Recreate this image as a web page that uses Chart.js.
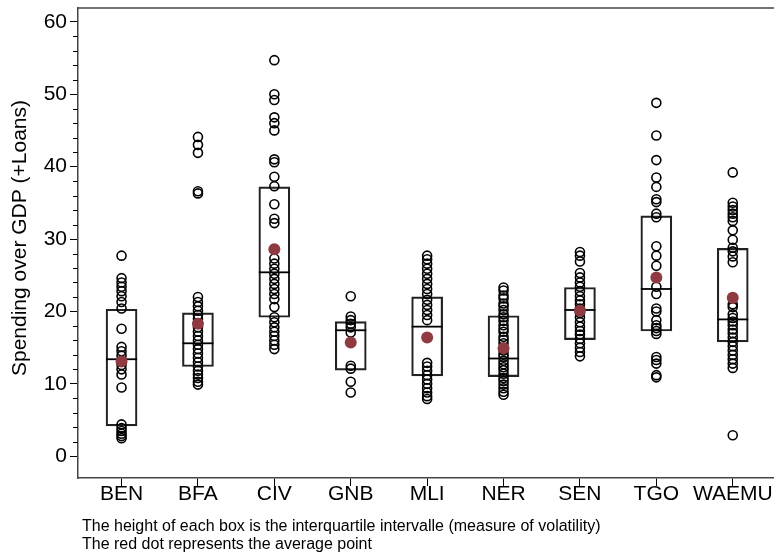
<!DOCTYPE html>
<html>
<head>
<meta charset="utf-8">
<script src="https://cdn.jsdelivr.net/npm/chart.js@4/dist/chart.umd.min.js"></script>
<style>
  html, body { margin: 0; padding: 0; background: #fff; }
  #wrap { width: 774px; height: 553px; }
</style>
</head>
<body>
<div id="wrap"><canvas id="volbox"></canvas></div>
<script>
var categories = ["BEN", "BFA", "CIV", "GNB", "MLI", "NER", "SEN", "TGO", "WAEMU"];
var q1 = [4.2, 12.4, 19.2, 11.9, 11.1, 11.0, 16.1, 17.3, 15.8];
var medians = [13.4, 15.6, 25.4, 17.4, 17.9, 13.5, 20.2, 23.1, 18.9];
var q3 = [20.3, 19.8, 37.2, 18.6, 22.0, 19.4, 23.3, 33.2, 28.7];
var means = [13.1, 18.3, 28.6, 15.7, 16.4, 14.9, 20.1, 24.7, 21.9];

var ben = [27.7, 24.6, 24.0, 23.4, 22.8, 22.1, 21.3, 20.4, 17.6, 15.1, 14.5, 13.9, 13.2, 12.6, 12.0, 11.3, 9.5, 4.4, 3.9, 3.5, 3.1, 2.8, 2.5];
var bfa = [44.1, 43.0, 41.9, 36.6, 36.3, 22.0, 21.3, 20.7, 20.1, 19.5, 19.0, 18.4, 17.8, 17.2, 16.6, 16.0, 15.4, 14.8, 14.2, 13.6, 13.0, 12.4, 11.8, 11.3, 10.8, 10.3, 9.9];
var civ = [54.7, 50.0, 49.2, 46.8, 46.0, 45.0, 41.0, 40.6, 38.6, 37.3, 34.8, 32.8, 32.2, 27.3, 26.6, 25.9, 25.2, 24.5, 23.8, 23.1, 22.4, 21.7, 20.6, 19.2, 18.5, 17.8, 17.2, 16.6, 16.0, 15.4, 14.8];
var gnb = [22.1, 19.3, 18.8, 18.3, 17.8, 17.1, 12.5, 12.1, 10.3, 8.8];
var mli = [27.7, 27.2, 26.6, 25.9, 25.2, 24.5, 23.8, 23.1, 22.4, 21.6, 20.9, 20.2, 19.5, 18.8, 12.9, 12.4, 11.8, 11.2, 10.6, 10.0, 9.4, 8.8, 8.3, 7.9];
var ner = [23.3, 22.9, 22.2, 21.8, 21.1, 20.7, 20.2, 19.6, 19.2, 18.7, 18.1, 17.6, 17.2, 16.5, 16.1, 15.6, 15.0, 14.6, 14.1, 13.7, 13.2, 12.7, 12.3, 11.9, 11.4, 10.8, 10.4, 9.9, 9.4, 8.9, 8.5];
var sen = [28.2, 27.7, 26.9, 25.3, 24.7, 24.0, 23.4, 22.8, 22.1, 21.5, 21.0, 20.4, 19.8, 19.2, 18.5, 17.9, 17.3, 16.8, 16.2, 15.6, 15.0, 14.4, 13.8];
var tgo = [48.8, 44.3, 40.9, 38.5, 37.2, 35.5, 35.1, 33.5, 33.0, 29.0, 27.7, 26.3, 23.4, 22.4, 20.4, 20.0, 18.8, 18.1, 17.7, 17.3, 16.9, 13.7, 13.3, 12.8, 11.2, 10.9];
var waemu = [39.2, 35.0, 34.5, 34.0, 33.5, 33.0, 32.5, 31.2, 29.9, 28.8, 28.3, 27.6, 26.8, 21.0, 20.6, 19.6, 19.1, 18.6, 18.1, 17.5, 17.0, 16.4, 15.8, 15.2, 14.6, 14.0, 13.4, 12.8, 12.2, 2.9];
var observations = [ben, bfa, civ, gnb, mli, ner, sen, tgo, waemu];

var yTicks = [0, 10, 20, 30, 40, 50, 60];
var yTitle = "Spending over GDP (+Loans)";
var notes = [
  "The height of each box is the interquartile intervalle (measure of volatility)",
  "The red dot represents the average point"
];

var FONT = 'Arial, "Liberation Sans", sans-serif';

// points for each country, all on the country's x position
var obsPoints = [];
observations.forEach(function(list, i) {
  list.forEach(function(v) { obsPoints.push({x: i, y: v}); });
});

var extras = {
  id: 'extras',
  afterDraw: function(chart) {
    var c = chart.ctx, a = chart.chartArea, ys = chart.scales.y;
    c.save();
    // minor ticks on the y axis
    c.strokeStyle = '#000';
    c.lineWidth = 1;
    for (var v = 2; v < 60; v += 2) {
      if (v % 10 === 0) continue;
      var py = Math.round(ys.getPixelForValue(v)) + 0.5;
      c.beginPath();
      c.moveTo(a.left - 5, py);
      c.lineTo(a.left, py);
      c.stroke();
    }
    // top frame line
    c.strokeStyle = '#444';
    c.lineWidth = 1.5;
    c.beginPath();
    c.moveTo(a.left, a.top);
    c.lineTo(a.right, a.top);
    c.stroke();
    // notes under the chart
    c.fillStyle = '#000';
    c.font = '16px ' + FONT;
    c.textAlign = 'left';
    c.textBaseline = 'middle';
    c.fillText(notes[0], 82, 527);
    c.fillText(notes[1], 82, 545);
    // y title
    c.font = '21px ' + FONT;
    c.textAlign = 'center';
    c.translate(20, 238);
    c.rotate(-Math.PI / 2);
    c.fillText(yTitle, 0, 0);
    c.restore();
  }
};

var chart = new Chart(document.getElementById('volbox'), {
  type: 'bar',
  data: {
    datasets: [
      {
        type: 'scatter',
        label: 'Average',
        data: means.map(function(m, i) { return {x: i, y: m}; }),
        pointRadius: 6,
        pointBackgroundColor: '#8e3a40',
        pointBorderWidth: 0,
        order: 0
      },
      {
        type: 'scatter',
        label: 'Observations',
        data: obsPoints,
        pointRadius: 4.5,
        pointBackgroundColor: 'rgba(0,0,0,0)',
        pointBorderColor: '#000',
        pointBorderWidth: 1.6,
        order: 1
      },
      {
        type: 'scatter',
        label: 'Median',
        data: medians.map(function(m, i) { return {x: i, y: m}; }),
        pointStyle: 'line',
        pointRadius: 15.5,
        pointBorderColor: '#000',
        pointBorderWidth: 1.8,
        order: 2
      },
      {
        type: 'bar',
        label: 'IQR',
        data: q1.map(function(lo, i) { return {x: i, y: [lo, q3[i]]}; }),
        backgroundColor: 'rgba(0,0,0,0)',
        borderColor: '#222',
        borderWidth: 1.5,
        borderSkipped: false,
        barThickness: 31,
        order: 3
      }
    ]
  },
  options: {
    responsive: true,
    maintainAspectRatio: false,
    animation: false,
    layout: { autoPadding: false, padding: { top: 8, right: 0, bottom: 0, left: 0 } },
    plugins: {
      legend: { display: false },
      tooltip: { enabled: false }
    },
    scales: {
      x: {
        type: 'linear',
        min: -0.57,
        max: 8.54,
        offset: false,
        grid: { offset: false, drawOnChartArea: false, tickLength: 8, color: '#000' },
        border: { display: true, color: '#444', width: 1.5 },
        afterBuildTicks: function(scale) {
          scale.ticks = categories.map(function(c, i) { return {value: i}; });
        },
        afterFit: function(scale) {
          scale.height = 75;
          scale.paddingLeft = 0;
          scale.paddingRight = 0;
        },
        ticks: {
          autoSkip: false,
          maxRotation: 0,
          padding: -4,
          color: '#000',
          font: { family: FONT, size: 21 },
          callback: function(v) { return categories[v]; }
        }
      },
      y: {
        min: -3,
        max: 61.9,
        grid: { drawOnChartArea: false, tickLength: 8, color: '#000' },
        border: { display: true, color: '#444', width: 1.5 },
        afterBuildTicks: function(scale) {
          scale.ticks = yTicks.map(function(v) { return {value: v}; });
        },
        afterFit: function(scale) {
          scale.width = 78;
          scale.paddingTop = 0;
          scale.paddingBottom = 0;
        },
        ticks: {
          padding: 3,
          color: '#000',
          font: { family: FONT, size: 21 }
        }
      }
    }
  },
  plugins: [extras]
});
</script>
</body>
</html>
